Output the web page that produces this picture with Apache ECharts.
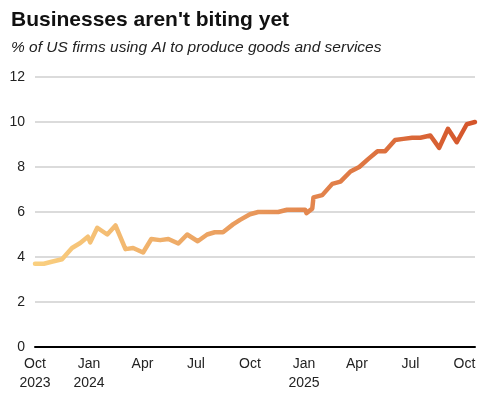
<!DOCTYPE html>
<html>
<head>
<meta charset="utf-8">
<script src="https://cdn.jsdelivr.net/npm/echarts@6/dist/echarts.min.js"></script>
<style>
html,body{margin:0;padding:0;background:#fff;}
#c{width:497px;height:399px;}
</style>
</head>
<body>
<div id="c"></div>
<script>
var dates = [
  '2023-10-01','2023-10-16','2023-10-31','2023-11-16','2023-12-03','2023-12-17','2023-12-30',
  '2024-01-03','2024-01-15','2024-02-01','2024-02-15','2024-03-03','2024-03-16','2024-04-02',
  '2024-04-16','2024-05-01','2024-05-15','2024-06-01','2024-06-16','2024-07-04','2024-07-20',
  '2024-08-02','2024-08-16','2024-09-02','2024-09-14','2024-10-01','2024-10-15','2024-11-01',
  '2024-11-18','2024-12-03','2024-12-18','2025-01-03','2025-01-05','2025-01-15','2025-01-17',
  '2025-02-01','2025-02-18','2025-03-04','2025-03-21','2025-04-05','2025-04-20','2025-05-06',
  '2025-05-19','2025-06-05','2025-06-19','2025-07-04','2025-07-18','2025-08-04','2025-08-19',
  '2025-09-03','2025-09-18','2025-10-05','2025-10-19'
];
var values = [
  3.70, 3.70, 3.80, 3.90, 4.40, 4.62, 4.90,
  4.65, 5.30, 5.00, 5.40, 4.35, 4.40, 4.20,
  4.80, 4.75, 4.80, 4.60, 5.00, 4.70, 5.00,
  5.10, 5.10, 5.45, 5.65, 5.90, 6.00, 6.00,
  6.00, 6.10, 6.10, 6.10, 5.95, 6.15, 6.65,
  6.75, 7.25, 7.35, 7.80, 8.00, 8.35, 8.70,
  8.70, 9.20, 9.25, 9.30, 9.30, 9.40, 8.85,
  9.70, 9.10, 9.90, 10.00
];
var tickDates = ['2023-10-01','2024-01-01','2024-04-01','2024-07-01','2024-10-01','2025-01-01','2025-04-01','2025-07-01','2025-10-01'];
var tickLabels = ['Oct\n2023','Jan\n2024','Apr','Jul','Oct','Jan\n2025','Apr','Jul','Oct'];
var yTicks = [0, 2, 4, 6, 8, 10, 12];

var titleText = "Businesses aren't biting yet";
var subtitleText = '% of US firms using AI to produce goods and services';

function ts(s){ var p = s.split('-'); return Date.UTC(+p[0], +p[1]-1, +p[2]); }
var tickTs = tickDates.map(ts);
var seriesData = dates.map(function(d,i){ return [ts(d), values[i]]; });
var xMin = ts('2023-10-01'), xMax = ts('2025-10-19');

var chart = echarts.init(document.getElementById('c'), null, {renderer:'canvas'});
chart.setOption({
  animation: false,
  backgroundColor: '#fff',
  textStyle: { fontFamily: 'Liberation Sans, Arial, sans-serif' },
  title: {
    text: titleText,
    subtext: subtitleText,
    left: 6,
    top: 5,
    itemGap: 9,
    textStyle: { fontFamily: 'Liberation Sans, Arial, sans-serif', fontSize: 21, fontWeight: 'bold', color: '#111' },
    subtextStyle: { fontFamily: 'Liberation Sans, Arial, sans-serif', fontSize: 15.5, fontStyle: 'italic', color: '#222' }
  },
  grid: { left: 35, right: 22, top: 77, bottom: 52, containLabel: false },
  xAxis: {
    type: 'value',
    min: xMin,
    max: xMax,
    axisLine: { show: true, onZero: false, lineStyle: { color: '#000', width: 2 } },
    axisTick: { show: false },
    splitLine: { show: false },
    axisLabel: {
      customValues: tickTs,
      color: '#222',
      fontSize: 14,
      lineHeight: 19,
      margin: 8,
      formatter: function(v){
        var i = tickTs.indexOf(v);
        return i >= 0 ? tickLabels[i] : '';
      }
    }
  },
  yAxis: {
    type: 'value',
    min: yTicks[0],
    max: yTicks[yTicks.length-1],
    interval: 2,
    axisLine: { show: false },
    axisTick: { show: false },
    splitLine: { lineStyle: { color: '#cfcfcf', width: 1.5 } },
    axisLabel: { color: '#222', fontSize: 14, margin: 10 }
  },
  series: [{
    type: 'line',
    data: seriesData,
    showSymbol: false,
    symbol: 'none',
    z: 5,
    lineStyle: {
      width: 4.5,
      cap: 'round',
      join: 'round',
      color: new echarts.graphic.LinearGradient(0, 0, 1, 0, [
        { offset: 0, color: '#fad080' },
        { offset: 0.5, color: '#e8975a' },
        { offset: 1, color: '#d4542a' }
      ])
    }
  }]
});
</script>
</body>
</html>
